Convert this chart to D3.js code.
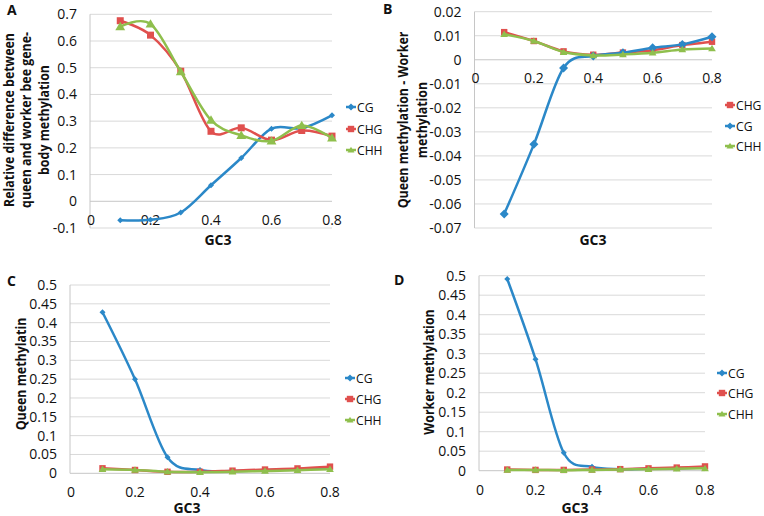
<!DOCTYPE html>
<html><head><meta charset="utf-8">
<script src="https://cdn.jsdelivr.net/npm/d3@7"></script>
<style>
body{margin:0;background:#fff}
svg{display:block}
text{font-family:'Open Sans',sans-serif;fill:#111}
</style>
</head><body>
<svg id="c" width="764" height="516"></svg>
<script>
// ---------- data ----------
const gc3 = [0.1, 0.2, 0.3, 0.4, 0.5, 0.6, 0.7, 0.8];
const xTicks = [0, 0.2, 0.4, 0.6, 0.8];

// Panel A: relative difference
const aCG  = [-0.071, -0.069, -0.042, 0.060, 0.162, 0.272, 0.274, 0.322];
const aCHG = [0.676, 0.622, 0.487, 0.262, 0.275, 0.229, 0.265, 0.244];
const aCHH = [0.654, 0.664, 0.485, 0.304, 0.247, 0.226, 0.284, 0.237];
const aTicksY = [-0.1, 0, 0.1, 0.2, 0.3, 0.4, 0.5, 0.6, 0.7];

// Panel B: queen - worker
const bCHG = [0.0115, 0.0078, 0.0035, 0.0021, 0.0030, 0.0040, 0.0061, 0.0075];
const bCG  = [-0.0642, -0.0352, -0.0034, 0.0016, 0.0029, 0.0050, 0.0064, 0.0096];
const bCHH = [0.0106, 0.0078, 0.0032, 0.0018, 0.0022, 0.0029, 0.0043, 0.0047];
const bTicksY = [-0.07, -0.06, -0.05, -0.04, -0.03, -0.02, -0.01, 0, 0.01, 0.02];

// Panel C: queen methylation
const cCG  = [0.4275, 0.2496, 0.0425, 0.0088, 0.006, 0.008, 0.011, 0.014];
const cCHG = [0.0133, 0.0088, 0.0040, 0.0040, 0.0070, 0.0100, 0.0130, 0.0177];
const cCHH = [0.0110, 0.0090, 0.0040, 0.0030, 0.0040, 0.0060, 0.0080, 0.0110];
const cTicksY = [0, 0.05, 0.1, 0.15, 0.2, 0.25, 0.3, 0.35, 0.4, 0.45, 0.5];

// Panel D: worker methylation
const dCG  = [0.4915, 0.286, 0.046, 0.010, 0.004, 0.005, 0.006, 0.008];
const dCHG = [0.003, 0.002, 0.002, 0.003, 0.004, 0.006, 0.008, 0.011];
const dCHH = [0.002, 0.002, 0.001, 0.002, 0.003, 0.004, 0.005, 0.006];
const dTicksY = [0, 0.05, 0.1, 0.15, 0.2, 0.25, 0.3, 0.35, 0.4, 0.45, 0.5];

// ---------- styles ----------
const COL = {CG: '#2b88c8', CHG: '#e0504e', CHH: '#8fbf4d'};
const GRID = '#d9d9d9', AXIS = '#c6c6c6';

const panels = [
  { letter: 'A', lx: 7, ly: 15,
    x0: 90, x1: 332, yTop: 14.3, yBot: 228, ydom: [-0.1, 0.7], yTicks: aTicksY,
    xLabY: 225, gcX: 218, gcY: 245,
    titles: ['Relative difference between', 'queen and worker bee gene-', 'body methylation'],
    titleBx: [13.5, 31, 48.5], titleCy: 120,
    legX: 346, legY: [107, 129, 150],
    series: [
      {name: 'CG', vals: aCG, m: 'diamond', s: 3},
      {name: 'CHG', vals: aCHG, m: 'square', s: 3.5},
      {name: 'CHH', vals: aCHH, m: 'triangle', s: 4.5}
    ]},
  { letter: 'B', lx: 383, ly: 14,
    x0: 474.5, x1: 712, yTop: 11.7, yBot: 228, ydom: [-0.07, 0.02], yTicks: bTicksY,
    xLabY: 83, gcX: 593, gcY: 245,
    titles: ['Queen methylation - Worker', 'methylation'],
    titleBx: [408, 427], titleCy: 120,
    legX: 725, legY: [105, 126, 146],
    series: [
      {name: 'CHG', vals: bCHG, m: 'square', s: 3.2},
      {name: 'CG', vals: bCG, m: 'diamond', s: 4.5},
      {name: 'CHH', vals: bCHH, m: 'triangle', s: 3.5}
    ]},
  { letter: 'C', lx: 7, ly: 286,
    x0: 70, x1: 330, yTop: 285, yBot: 473.3, ydom: [0, 0.5], yTicks: cTicksY,
    xLabY: 497, gcX: 187, gcY: 513,
    titles: ['Queen methylatin'],
    titleBx: [25.5], titleCy: 374,
    legX: 345, legY: [378, 399, 420],
    series: [
      {name: 'CG', vals: cCG, m: 'diamond', s: 3},
      {name: 'CHG', vals: cCHG, m: 'square', s: 3.2},
      {name: 'CHH', vals: cCHH, m: 'triangle', s: 3.5}
    ]},
  { letter: 'D', lx: 394, ly: 285,
    x0: 479, x1: 705, yTop: 275.7, yBot: 470.7, ydom: [0, 0.5], yTicks: dTicksY,
    xLabY: 495, gcX: 575, gcY: 513,
    titles: ['Worker methylation'],
    titleBx: [434], titleCy: 372,
    legX: 717, legY: [373, 393, 414],
    series: [
      {name: 'CG', vals: dCG, m: 'diamond', s: 3},
      {name: 'CHG', vals: dCHG, m: 'square', s: 3.2},
      {name: 'CHH', vals: dCHH, m: 'triangle', s: 3.5}
    ]}
];

const svg = d3.select('#c');
const fmt = v => String(+v.toFixed(3));

function marker(g, type, x, y, s, color) {
  let p;
  if (type === 'diamond') p = `M${x},${y-s}L${x+s},${y}L${x},${y+s}L${x-s},${y}Z`;
  else if (type === 'square') p = `M${x-s},${y-s}h${2*s}v${2*s}h${-2*s}Z`;
  else p = `M${x},${y-s*1.05}L${x+s*1.1},${y+s*0.8}L${x-s*1.1},${y+s*0.8}Z`;
  g.append('path').attr('d', p).attr('fill', color);
}

const titleNodes = [];

panels.forEach(P => {
  const g = svg.append('g');
  const x = d3.scaleLinear().domain([0, 0.8]).range([P.x0, P.x1]);
  const y = d3.scaleLinear().domain(P.ydom).range([P.yBot, P.yTop]);

  // gridlines
  g.selectAll('line.grid').data(P.yTicks).enter().append('line')
    .attr('x1', P.x0).attr('x2', P.x1)
    .attr('y1', d => y(d)).attr('y2', d => y(d))
    .attr('stroke', d => d === 0 ? AXIS : GRID).attr('stroke-width', 1);
  // vertical axis
  g.append('line').attr('x1', P.x0).attr('x2', P.x0).attr('y1', P.yTop).attr('y2', P.yBot)
    .attr('stroke', AXIS);

  // y tick labels
  g.selectAll('text.yt').data(P.yTicks).enter().append('text')
    .attr('x', P.x0 - 13).attr('y', d => y(d) + 5)
    .attr('text-anchor', 'end').style('font-size', '14px').text(fmt);
  // x tick labels
  g.selectAll('text.xt').data(xTicks).enter().append('text')
    .attr('x', d => x(d) + (d === 0 ? 1 : 0)).attr('y', P.xLabY)
    .attr('text-anchor', 'middle').style('font-size', '14px').text(fmt);

  // series
  const line = d3.line().x((d, i) => x(gc3[i])).y(d => y(d)).curve(d3.curveCardinal.tension(0));
  P.series.forEach(S => {
    g.append('path').attr('d', line(S.vals)).attr('fill', 'none')
      .attr('stroke', COL[S.name]).attr('stroke-width', 2.5).attr('stroke-linejoin', 'round');
    S.vals.forEach((v, i) => marker(g, S.m, x(gc3[i]), y(v), S.s, COL[S.name]));
  });

  // legend
  P.series.forEach((S, i) => {
    const ly = P.legY[i];
    g.append('line').attr('x1', P.legX).attr('x2', P.legX + 10).attr('y1', ly).attr('y2', ly)
      .attr('stroke', COL[S.name]).attr('stroke-width', 2.5);
    marker(g, S.m, P.legX + 5, ly, S.m === 'diamond' ? 3.5 : 3.2, COL[S.name]);
    const t = g.append('text').attr('x', P.legX + 11).attr('y', ly + 5)
      .style('font-size', '13.5px').text(S.name);
    const w = t.node().getComputedTextLength();
    t.attr('textLength', w * 0.9).attr('lengthAdjust', 'spacingAndGlyphs');
  });

  // x title
  g.append('text').attr('x', P.gcX).attr('y', P.gcY).attr('text-anchor', 'middle')
    .style('font-size', '14px').style('font-weight', 'bold').text('GC3');
  // y titles
  P.titles.forEach((t, i) => {
    const tn = g.append('text')
      .attr('transform', `translate(${P.titleBx[i]},${P.titleCy}) rotate(-90)`)
      .attr('text-anchor', 'middle').style('font-size', '14px').style('font-weight', 'bold').text(t);
    titleNodes.push(tn);
  });
  // panel letter
  g.append('text').attr('x', P.lx).attr('y', P.ly).style('font-size', '14px')
    .style('font-weight', 'bold').text(P.letter);
});

// condense bold titles to match narrower reference typeface
const ref = titleNodes[0].node().getComputedTextLength();
const k = 174 / ref;
titleNodes.forEach(tn => {
  const w = tn.node().getComputedTextLength();
  tn.attr('textLength', w * k).attr('lengthAdjust', 'spacingAndGlyphs');
});
</script>
</body></html>
